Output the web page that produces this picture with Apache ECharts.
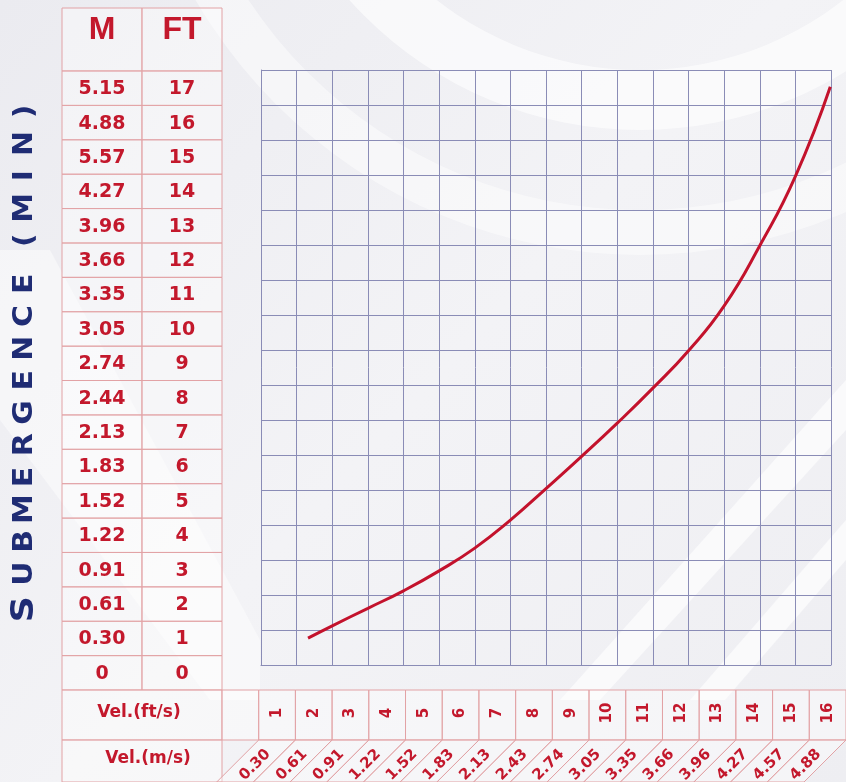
<!DOCTYPE html>
<html>
<head>
<meta charset="utf-8">
<script src="https://cdn.jsdelivr.net/npm/echarts@6/dist/echarts.min.js"></script>
<style>
html,body{margin:0;padding:0;background:#efeff3;}
#chart{width:846px;height:782px;}
</style>
</head>
<body>
<div id="chart"></div>
<script>
// ---------- data ----------
const headers = ['M', 'FT'];
const subM = ['0','0.30','0.61','0.91','1.22','1.52','1.83','2.13','2.44','2.74','3.05','3.35','3.66','3.96','4.27','5.57','4.88','5.15'];
const subFt = ['0','1','2','3','4','5','6','7','8','9','10','11','12','13','14','15','16','17'];
const rowNames = ['Vel.(ft/s)', 'Vel.(m/s)'];
const velFt = ['1','2','3','4','5','6','7','8','9','10','11','12','13','14','15','16'];
const velMs = ['0.30','0.61','0.91','1.22','1.52','1.83','2.13','2.43','2.74','3.05','3.35','3.66','3.96','4.27','4.57','4.88'];
const axisTitle = 'SUBMERGENCE (MIN)';
// curve read in grid units (x: 0..16 columns, y: 0..17 rows)
const curveVel = [1.32, 2, 3, 4, 5, 6, 7, 8, 9, 10, 11, 12, 13, 14, 15, 15.98];
const curveSub = [0.77, 1.12, 1.62, 2.12, 2.69, 3.34, 4.14, 5.04, 5.96, 6.91, 7.91, 8.98, 10.26, 11.98, 13.96, 16.52];

// ---------- styles ----------
const red = '#c3182c';
const lineRed = '#e2a2a5';
const cellFill = 'rgba(255,255,255,0.40)';
const gridColor = '#8a8cb6';
const navy = '#1f2c74';

function cellRenderer(getText, txt, slant) {
  return function (params, api) {
    const c = api.coord([api.value(0), api.value(1)]);
    const s = api.size([1, 1]);
    const w = s[0], h = s[1];
    const x0 = c[0] - w / 2, y0 = c[1] - h / 2, y1 = c[1] + h / 2;
    const text = getText(params.dataIndex);
    const kids = [];
    if (slant) {
      kids.push({type: 'polygon', shape: {points: [[x0, y0], [x0 + w, y0], [x0 + w - h, y1], [x0 - h, y1]]},
        style: {fill: cellFill, stroke: lineRed, lineWidth: 1}});
      kids.push({type: 'text', x: c[0] - h / 2 + (txt.dx || 0), y: c[1] + (txt.dy || 0), rotation: Math.PI / 4,
        style: {text: text, fill: red, fontSize: txt.size, fontWeight: 'bold', fontFamily: txt.family,
          align: 'center', verticalAlign: 'middle'}});
    } else {
      kids.push({type: 'rect', shape: {x: x0, y: y0, width: w, height: h},
        style: {fill: cellFill, stroke: lineRed, lineWidth: 1}});
      kids.push({type: 'text', x: c[0] + (txt.dx || 0), y: c[1] + (txt.dy || 0), rotation: txt.rot || 0,
        style: {text: text, fill: red, fontSize: txt.size, fontWeight: 'bold', fontFamily: txt.family,
          align: 'center', verticalAlign: 'middle'}});
    }
    return {type: 'group', children: kids};
  };
}

const hidden = {show: false};
function catX(gi, data) { return {gridIndex: gi, type: 'category', data: data, show: false}; }
function catY(gi, data) { return {gridIndex: gi, type: 'category', data: data, show: false}; }

const headerData = headers.map((h, i) => [i, 0]);
const bodyData = [];
const bodyText = [];
subM.forEach((m, i) => { bodyData.push([0, i]); bodyText.push(m); bodyData.push([1, i]); bodyText.push(subFt[i]); });
const ftRowCats = [''].concat(velFt);
const msRowCats = [''].concat(velMs);
const ftRowData = ftRowCats.map((v, i) => [i, 0]);
const msRowData = velMs.map((v, i) => [i + 1, 0]);

const titleRich = axisTitle.split('').map((ch, i) => {
  if (i === 0) return '{s|' + ch + '}';
  if (ch === ' ') return '{sp| }';
  return '{c|' + ch + '}';
}).join('');

const chart = echarts.init(document.getElementById('chart'), null, {renderer: 'canvas'});
chart.setOption({
  backgroundColor: {type: 'linear', x: 0, y: 0, x2: 1, y2: 1,
    colorStops: [{offset: 0, color: '#ebebf0'}, {offset: 0.5, color: '#f3f3f6'}, {offset: 1, color: '#eeeef2'}]},
  animation: false,
  graphic: [
    {type: 'ring', z: -10, silent: true, shape: {cx: 640, cy: -260, r0: 330, r: 390}, style: {fill: 'rgba(255,255,255,0.6)'}},
    {type: 'ring', z: -10, silent: true, shape: {cx: 640, cy: -260, r0: 470, r: 515}, style: {fill: 'rgba(255,255,255,0.45)'}},
    {type: 'polygon', z: -10, silent: true, shape: {points: [[560, 700], [846, 380], [846, 430], [600, 700]]}, style: {fill: 'rgba(255,255,255,0.65)'}},
    {type: 'polygon', z: -10, silent: true, shape: {points: [[690, 700], [846, 520], [846, 560], [725, 700]]}, style: {fill: 'rgba(255,255,255,0.65)'}},
    {type: 'polygon', z: -10, silent: true, shape: {points: [[0, 250], [50, 250], [260, 640], [260, 700], [210, 700], [0, 420]]}, style: {fill: 'rgba(255,255,255,0.45)'}},
    {type: 'text', z: 10, x: 25, y: 362, rotation: Math.PI / 2, scaleX: 1.15, scaleY: 1,
      style: {text: titleRich, align: 'center', verticalAlign: 'middle',
        rich: {
          s: {fill: navy, fontSize: 32, fontWeight: 'bold', fontFamily: 'DejaVu Sans', width: 34, align: 'center'},
          c: {fill: navy, fontSize: 26, fontWeight: 'bold', fontFamily: 'DejaVu Sans', width: 28, align: 'center'},
          sp: {fill: navy, fontSize: 26, fontFamily: 'DejaVu Sans', width: 10}
        }}}
  ],
  grid: [
    {left: 261, top: 70, width: 570, height: 595},
    {left: 62, top: 8, width: 160, height: 63},
    {left: 62, top: 71, width: 160, height: 619},
    {left: 62, top: 690, width: 160, height: 50},
    {left: 62, top: 740, width: 160, height: 48},
    {left: 222, top: 690, width: 631, height: 50},
    {left: 222, top: 740, width: 631, height: 48}
  ],
  xAxis: [
    {gridIndex: 0, type: 'value', min: 0, max: 16, interval: 1,
      axisLabel: hidden, axisTick: hidden,
      axisLine: {show: true, lineStyle: {color: gridColor, width: 1}},
      splitLine: {show: true, lineStyle: {color: gridColor, width: 1}}},
    catX(1, headers), catX(2, headers), catX(3, ['']), catX(4, ['']), catX(5, ftRowCats), catX(6, msRowCats)
  ],
  yAxis: [
    {gridIndex: 0, type: 'value', min: 0, max: 17, interval: 1,
      axisLabel: hidden, axisTick: hidden,
      axisLine: {show: true, lineStyle: {color: gridColor, width: 1}},
      splitLine: {show: true, lineStyle: {color: gridColor, width: 1}}},
    catY(1, ['h']), catY(2, subFt), catY(3, [rowNames[0]]), catY(4, [rowNames[1]]), catY(5, ['ft']), catY(6, ['ms'])
  ],
  series: [
    {type: 'line', xAxisIndex: 0, yAxisIndex: 0, z: 5, smooth: 0.5, showSymbol: false, symbol: 'none',
      lineStyle: {color: '#c3122c', width: 3}, itemStyle: {color: '#c3122c'},
      data: curveVel.map((v, i) => [v, curveSub[i]])},
    {type: 'custom', xAxisIndex: 1, yAxisIndex: 1, data: headerData,
      renderItem: cellRenderer(i => headers[i], {size: 32, family: 'Liberation Sans', dy: -9})},
    {type: 'custom', xAxisIndex: 2, yAxisIndex: 2, data: bodyData,
      renderItem: cellRenderer(i => bodyText[i], {size: 19, family: 'DejaVu Sans', dy: 1})},
    {type: 'custom', xAxisIndex: 3, yAxisIndex: 3, data: [[0, 0]],
      renderItem: cellRenderer(i => rowNames[0], {size: 17, family: 'DejaVu Sans', dx: -3, dy: -2})},
    {type: 'custom', xAxisIndex: 4, yAxisIndex: 4, data: [[0, 0]],
      renderItem: cellRenderer(i => rowNames[1], {size: 17, family: 'DejaVu Sans', dx: 6, dy: -2})},
    {type: 'custom', xAxisIndex: 5, yAxisIndex: 5, data: ftRowData,
      renderItem: cellRenderer(i => ftRowCats[i], {size: 15, family: 'DejaVu Sans', rot: Math.PI / 2, dy: -2})},
    {type: 'custom', xAxisIndex: 6, yAxisIndex: 6, data: msRowData,
      renderItem: cellRenderer(i => velMs[i], {size: 15, family: 'DejaVu Sans', dx: -1, dy: 4}, true)}
  ]
});
</script>
</body>
</html>
